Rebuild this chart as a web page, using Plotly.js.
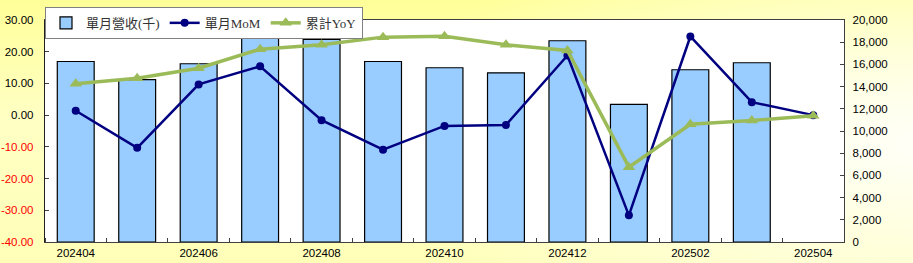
<!DOCTYPE html>
<html>
<head>
<meta charset="utf-8">
<script src="https://cdn.plot.ly/plotly-3.0.1.min.js"></script>
<style>
html,body{margin:0;padding:0;}
#chart{width:913px;height:263px;
background:
 radial-gradient(ellipse 60% 90% at 100% 55%, rgba(255,255,250,0.95) 0%, rgba(255,255,240,0.6) 45%, rgba(255,255,153,0) 100%),
 linear-gradient(to bottom, #FFFF99 0%, #FFFFC4 45%, #FFFFB8 100%);}
</style>
</head>
<body>
<div id="chart"></div>
<script>
const months = ["202404","202405","202406","202407","202408","202409","202410","202411","202412","202501","202502","202503","202504"];
const revenue = [16260, 14620, 16060, 18540, 18250, 16260, 15700, 15240, 18130, 12390, 15520, 16150, null];
const mom = [1.4, -10.3, 9.7, 15.4, -1.6, -10.9, -3.4, -3.1, 18.8, -31.6, 24.8, 4.1, 0.0];
const yoy = [9.9, 11.6, 14.8, 20.8, 22.2, 24.6, 24.9, 22.2, 20.4, -16.4, -2.9, -1.7, -0.2];
const leftTicks = [30, 20, 10, 0, -10, -20, -30, -40];

const idx = months.map((m, i) => i);
const labelIdx = idx.filter(i => i % 2 === 0);
const labelText = labelIdx.map(i => months[i]);
const leftText = leftTicks.map(v => v < 0
  ? '<span style="color:#FF0000">' + v.toFixed(2) + '</span>'
  : v.toFixed(2));

const font = "Liberation Sans, Arial, sans-serif";
const legFont = "Liberation Serif, Noto Sans CJK TC, serif";

const traces = [
  {type:'bar', name:'單月營收(千)', x: idx, y: revenue, yaxis:'y',
   marker:{color:'#99CCFF', line:{color:'#000000', width:1.2}}, hoverinfo:'skip'},
  {type:'scatter', mode:'lines+markers', name:'單月MoM', x: idx, y: mom, yaxis:'y2',
   line:{color:'#000080', width:2.5}, marker:{symbol:'circle', size:8, color:'#000080'}},
  {type:'scatter', mode:'lines+markers', name:'累計YoY', x: idx, y: yoy, yaxis:'y2',
   line:{color:'#9BBB59', width:3.5}, marker:{symbol:'triangle-up', size:11, color:'#9BBB59'}}
];

const layout = {
  width: 913, height: 263,
  margin: {l:45, r:69, t:20, b:21, pad:0, autoexpand:false},
  paper_bgcolor: 'rgba(0,0,0,0)',
  plot_bgcolor: '#FFFFFF',
  bargap: 0.4,
  showlegend: true,
  legend: {orientation:'h', x:0, xanchor:'left', y:1.059, yanchor:'top',
    bgcolor:'#FFFFFF', bordercolor:'#808080', borderwidth:1,
    font:{family:legFont, size:13, color:'#333333'}, traceorder:'normal',
    itemwidth:30, tracegroupgap:0},
  xaxis: {range:[-0.5, 12.5], tickmode:'array', tickvals: labelIdx, ticktext: labelText,
    ticks:'', showgrid:false, zeroline:false, showline:true, linecolor:'#404040', linewidth:1.2,
    mirror:true, tickfont:{family:font, size:11.5, color:'#000000'},
    minor:{tick0:0.5, dtick:1, ticks:'inside', ticklen:4, tickcolor:'#404040', showgrid:false}},
  yaxis: {range:[0, 20000], dtick:2000, tickformat:',d', side:'right',
    ticks:'inside', ticklen:4, tickcolor:'#404040', showgrid:false, zeroline:false,
    showline:true, linecolor:'#404040', linewidth:1.2, ticklabelstandoff:5,
    tickfont:{family:font, size:11.5, color:'#000000'}},
  yaxis2: {range:[-40, 30], tickmode:'array', tickvals: leftTicks, ticktext: leftText,
    overlaying:'y', side:'left',
    ticks:'inside', ticklen:4, tickcolor:'#404040', showgrid:false, zeroline:false,
    showline:true, linecolor:'#202020', linewidth:1.2, ticklabelstandoff:8,
    tickfont:{family:font, size:11.5, color:'#000000'}}
};

Plotly.newPlot('chart', traces, layout, {displayModeBar:false, staticPlot:true});
</script>
</body>
</html>
